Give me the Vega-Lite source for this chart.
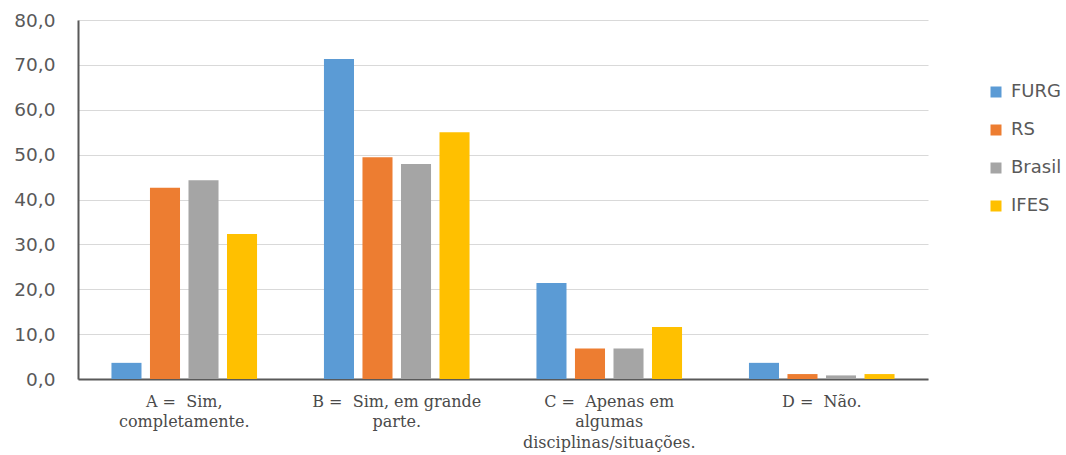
{
  "$schema": "https://vega.github.io/schema/vega-lite/v6.json",
  "autosize": "none",
  "width": 850,
  "height": 359,
  "padding": {"left": 78, "top": 20, "right": 138, "bottom": 76},
  "background": "white",
  "config": {"view": {"stroke": null}},
  "data": {
    "values": [
      {"cat": "A =\u00a0\u00a0Sim,|completamente.", "serie": "FURG", "valor": 3.6},
      {"cat": "A =\u00a0\u00a0Sim,|completamente.", "serie": "RS", "valor": 42.6},
      {"cat": "A =\u00a0\u00a0Sim,|completamente.", "serie": "Brasil", "valor": 44.3},
      {"cat": "A =\u00a0\u00a0Sim,|completamente.", "serie": "IFES", "valor": 32.3},
      {"cat": "B =\u00a0\u00a0Sim, em grande|parte.", "serie": "FURG", "valor": 71.3},
      {"cat": "B =\u00a0\u00a0Sim, em grande|parte.", "serie": "RS", "valor": 49.4},
      {"cat": "B =\u00a0\u00a0Sim, em grande|parte.", "serie": "Brasil", "valor": 47.9},
      {"cat": "B =\u00a0\u00a0Sim, em grande|parte.", "serie": "IFES", "valor": 55.0},
      {"cat": "C =\u00a0\u00a0Apenas em|algumas|disciplinas/situações.", "serie": "FURG", "valor": 21.4},
      {"cat": "C =\u00a0\u00a0Apenas em|algumas|disciplinas/situações.", "serie": "RS", "valor": 6.8},
      {"cat": "C =\u00a0\u00a0Apenas em|algumas|disciplinas/situações.", "serie": "Brasil", "valor": 6.8},
      {"cat": "C =\u00a0\u00a0Apenas em|algumas|disciplinas/situações.", "serie": "IFES", "valor": 11.6},
      {"cat": "D =\u00a0\u00a0Não.", "serie": "FURG", "valor": 3.6},
      {"cat": "D =\u00a0\u00a0Não.", "serie": "RS", "valor": 1.1},
      {"cat": "D =\u00a0\u00a0Não.", "serie": "Brasil", "valor": 0.8},
      {"cat": "D =\u00a0\u00a0Não.", "serie": "IFES", "valor": 1.1}
    ]
  },
  "mark": {"type": "bar"},
  "encoding": {
    "x": {
      "field": "cat",
      "type": "nominal",
      "sort": null,
      "scale": {"paddingInner": 0.275, "paddingOuter": 0.1375},
      "axis": {
        "title": null,
        "labelAngle": 0,
        "labelExpr": "split(datum.label, '|')",
        "labelFont": "DejaVu Serif",
        "labelFontSize": 16,
        "labelColor": "#4a4a4a",
        "labelLineHeight": 20.7,
        "labelPadding": 14,
        "ticks": false,
        "domainColor": "#595959",
        "domainWidth": 2,
        "labelLimit": 300
      }
    },
    "xOffset": {
      "field": "serie",
      "type": "nominal",
      "sort": ["FURG", "RS", "Brasil", "IFES"],
      "scale": {"paddingInner": 0.22, "paddingOuter": 0.11}
    },
    "y": {
      "field": "valor",
      "type": "quantitative",
      "scale": {"domain": [0, 80], "nice": false},
      "axis": {
        "title": null,
        "values": [0, 10, 20, 30, 40, 50, 60, 70, 80],
        "labelExpr": "replace(format(datum.value, '.1f'), '.', ',')",
        "labelFont": "DejaVu Sans",
        "labelFontSize": 18.5,
        "labelColor": "#595959",
        "labelPadding": 23,
        "ticks": false,
        "domainColor": "#595959",
        "domainWidth": 2,
        "gridColor": "#d9d9d9",
        "gridWidth": 1
      }
    },
    "color": {
      "field": "serie",
      "type": "nominal",
      "sort": ["FURG", "RS", "Brasil", "IFES"],
      "scale": {"domain": ["FURG", "RS", "Brasil", "IFES"], "range": ["#5b9bd5", "#ed7d31", "#a5a5a5", "#ffc000"]},
      "legend": {
        "title": null,
        "orient": "none",
        "legendX": 909,
        "legendY": 63,
        "symbolType": "square",
        "symbolSize": 121,
        "symbolStrokeWidth": 0,
        "labelFont": "DejaVu Sans",
        "labelFontSize": 18,
        "labelColor": "#595959",
        "labelOffset": 6,
        "rowPadding": 20
      }
    }
  }
}
